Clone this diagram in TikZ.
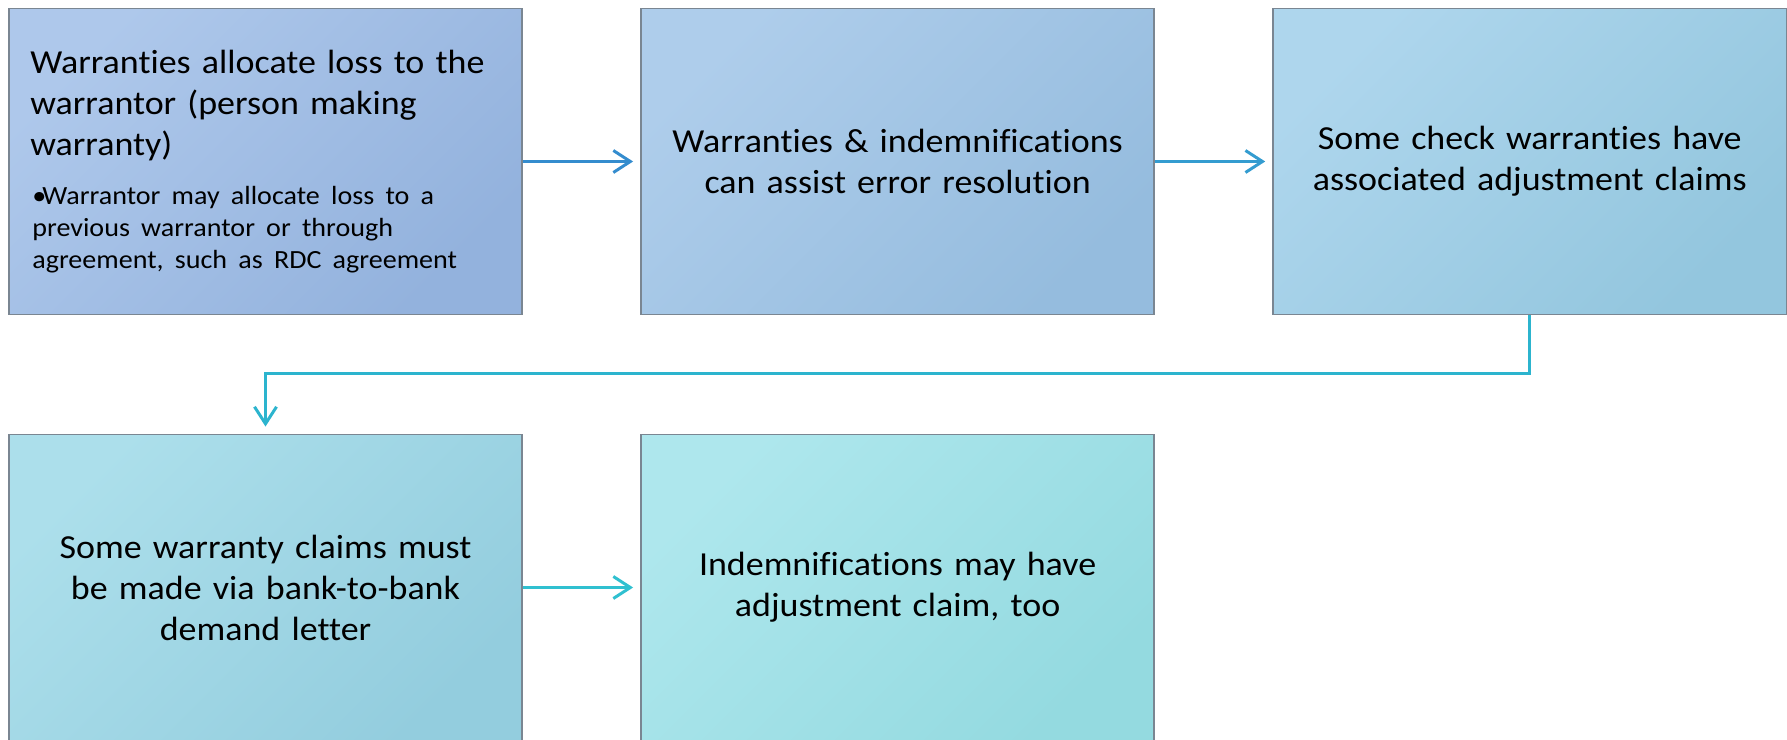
\documentclass[tikz,border=0pt]{standalone}
\usepackage{fontspec}
\setmainfont{Carlito}[FakeStretch=1.07,Ligatures=NoCommon]
\usetikzlibrary{positioning}
\usetikzlibrary{arrows.meta}

\definecolor{edgegray}{RGB}{122,134,146}
\definecolor{onetop}{RGB}{174,200,235}
\definecolor{onebot}{RGB}{147,178,221}
\definecolor{twotop}{RGB}{174,205,235}
\definecolor{twobot}{RGB}{149,188,222}
\definecolor{threetop}{RGB}{174,214,237}
\definecolor{threebot}{RGB}{147,198,222}
\definecolor{fourtop}{RGB}{172,223,235}
\definecolor{fourbot}{RGB}{147,205,222}
\definecolor{fivetop}{RGB}{174,231,237}
\definecolor{fivebot}{RGB}{148,218,224}
\definecolor{arrowone}{RGB}{52,140,206}
\definecolor{arrowtwo}{RGB}{52,156,208}
\definecolor{arrowthree}{RGB}{44,180,206}
\definecolor{arrowfour}{RGB}{48,192,208}

\begin{document}
\begin{tikzpicture}[x=0.01cm,y=-0.01cm,node distance=1.17cm,
  box/.style={draw=edgegray,line width=0.5pt,rectangle,minimum width=5.13cm,minimum height=3.06cm,
    inner sep=0pt,text width=4.7cm,align=center,font=\fontsize{9.56}{11.67}\selectfont},
  grad/.style 2 args={top color=#1,bottom color=#2,shading angle=45},
  flow/.style={line width=0.85pt,-{Straight Barb[length=0.17cm,width=0.22cm]},shorten >=0.07cm}]
\useasboundingbox (0,0) rectangle (1787,740);

\node[box,grad={onetop}{onebot}] (loss) at (265.5,161.5)
  {\begin{minipage}{4.7cm}\raggedright
   Warranties allocate loss to the\\warrantor (person making\\warranty)\par\vspace{5pt}%
   \fontsize{7.46}{9.1}\selectfont\leftskip=0.02cm\hangindent=0.1cm\hangafter=1
   \makebox[0.1cm][l]{\textbullet}Warrantor may allocate loss to a\\previous warrantor or through\\agreement, such as RDC agreement\par
   \end{minipage}};
\node[box,grad={twotop}{twobot},right=of loss] (assist)
  {Warranties \& indemnifications\\can assist error resolution};
\node[box,grad={threetop}{threebot},right=of assist] (adjust)
  {Some check warranties have\\associated adjustment claims};

\node[box,grad={fourtop}{fourbot},below=1.18cm of loss] (demand)
  {Some warranty claims must\\be made via bank-to-bank\\demand letter};
\node[box,grad={fivetop}{fivebot},right=of demand] (indem)
  {Indemnifications may have\\adjustment claim, too};

% connectors
\draw[flow,arrowone](loss.east)--(assist.west);
\draw[flow,arrowtwo](assist.east)--(adjust.west);
\draw[flow,arrowthree](adjust.south)|-([yshift=0.6cm]demand.north)--(demand.north);
\draw[flow,arrowfour](demand.east)--(indem.west);
\end{tikzpicture}
\end{document}
